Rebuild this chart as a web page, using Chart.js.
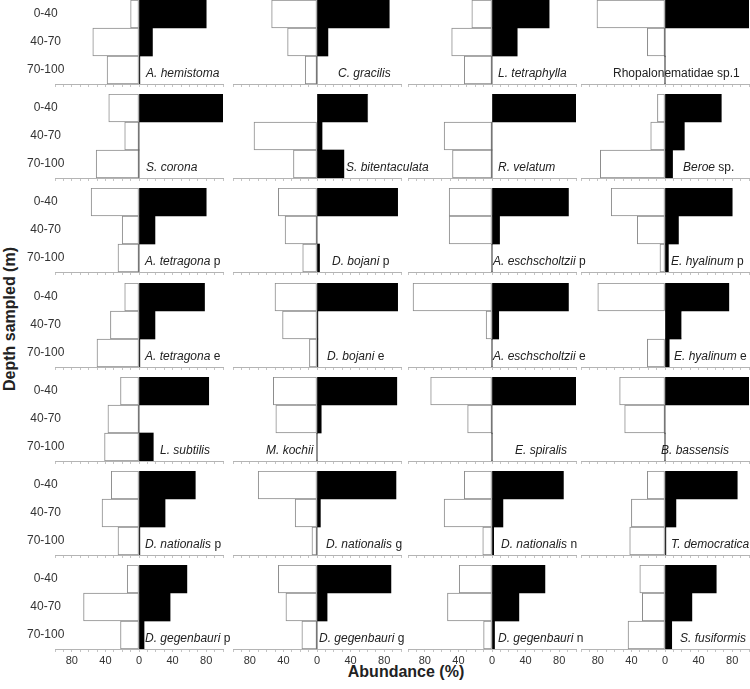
<!DOCTYPE html>
<html>
<head>
<meta charset="utf-8">
<script src="https://cdn.jsdelivr.net/npm/chart.js@4.4.0/dist/chart.umd.min.js"></script>
<style>
  body { margin: 0; background: #fff; }
  #wrap { position: relative; width: 750px; height: 689px; overflow: hidden; font-family: "Liberation Sans", Arial, sans-serif; }
  canvas { position: absolute; }
  .taxon { position: absolute; font-size: 12px; line-height: 14px; color: #222; white-space: nowrap; }
  #xtitle { position: absolute; left: 406px; top: 663px; transform: translateX(-50%); font-weight: bold; font-size: 16px; color: #222; white-space: nowrap; }
  #ytitle { position: absolute; left: 10px; top: 319px; transform: translate(-50%, -50%) rotate(-90deg); font-weight: bold; font-size: 16px; color: #222; white-space: nowrap; }
</style>
</head>
<body>
<div id="wrap">
  <div id="xtitle">Abundance (%)</div>
  <div id="ytitle">Depth sampled (m)</div>
</div>
<script>
const depths = ['0-40', '40-70', '70-100'];
const xTicks = [-80, -40, 0, 40, 80];

// italic part of each panel name, then the upright part
const taxa = [
  'A. hemistoma', 'C. gracilis', 'L. tetraphylla', '',
  'S. corona', 'S. bitentaculata', 'R. velatum', 'Beroe',
  'A. tetragona', 'D. bojani', 'A. eschscholtzii', 'E. hyalinum',
  'A. tetragona', 'D. bojani', 'A. eschscholtzii', 'E. hyalinum',
  'L. subtilis', 'M. kochii', 'E. spiralis', 'B. bassensis',
  'D. nationalis', 'D. nationalis', 'D. nationalis', 'T. democratica',
  'D. gegenbauri', 'D. gegenbauri', 'D. gegenbauri', 'S. fusiformis'
];
const suffixes = [
  '', '', '', 'Rhopalonematidae sp.1',
  '', '', '', ' sp.',
  ' p', ' p', ' p', ' p',
  ' e', ' e', ' e', ' e',
  '', '', '', '',
  ' p', ' g', ' n', '',
  ' p', ' g', ' n', ''
];

// white (open) bars, drawn to the left, % per depth
const openBars = [
  [10, 55, 38], [54, 35, 14], [24, 48, 33], [81, 21, 0],
  [36, 17, 51], [0, 75, 28], [0, 57, 47], [9, 17, 77],
  [57, 20, 25], [46, 38, 17], [51, 51, 0], [64, 33, 6],
  [17, 34, 50], [50, 41, 9], [94, 7, 0], [80, 0, 21],
  [22, 37, 41], [52, 49, 0], [73, 29, 0], [54, 48, 0],
  [33, 44, 25], [70, 26, 6], [33, 57, 11], [21, 40, 42],
  [14, 66, 22], [46, 37, 18], [39, 53, 10], [30, 27, 44]
];
// black (filled) bars, drawn to the right
const filledBars = [
  [80, 16, 1], [86, 13, 0], [68, 30, 0], [100, 0, 0],
  [100, 0, 0], [60, 6, 32], [100, 0, 0], [67, 23, 9],
  [80, 19, 0], [96, 0, 3], [91, 9, 0], [80, 16, 4],
  [78, 19, 1], [96, 1, 1], [91, 8, 0], [76, 19, 5],
  [83, 0, 17], [95, 5, 0], [100, 0, 0], [100, 0, 0],
  [67, 31, 1], [94, 4, 0], [85, 13, 2], [86, 13, 1],
  [57, 37, 6], [88, 12, 0], [63, 32, 3], [61, 32, 8]
];

const colLeft = [55, 233, 408, 581];
const rowTop = [0, 94, 188, 283, 377, 471, 565];
const labelLeft = [
  146, 338, 498, 613,
  146, 346, 498, 683,
  145, 332, 493, 671,
  145, 327, 493, 674,
  160, 266, 515, 661,
  145, 326, 501, 671,
  145, 319, 498, 680
];
const plotW = 168, plotH = 84;
const family = '"Liberation Sans", Arial, sans-serif';
const wrap = document.getElementById('wrap');

taxa.forEach((name, i) => {
  const r = Math.floor(i / 4), c = i % 4;
  const first = c === 0, bottom = r === 6;
  const xH = bottom ? 26 : 6;
  const left = first ? 0 : colLeft[c] - 2;
  const cv = document.createElement('canvas');
  cv.width = colLeft[c] + plotW + 2 - left;
  cv.height = plotH + xH;
  cv.style.left = left + 'px';
  cv.style.top = rowTop[r] + 'px';
  wrap.appendChild(cv);

  new Chart(cv, {
    type: 'bar',
    data: {
      labels: depths,
      datasets: [
        { data: filledBars[i], backgroundColor: '#000', borderWidth: 0,
          barPercentage: 1, categoryPercentage: 1 },
        { data: openBars[i].map(v => -v), backgroundColor: '#fff', borderColor: '#8c8c8c',
          borderWidth: 1, borderSkipped: false, minBarLength: 1,
          barPercentage: 1, categoryPercentage: 1 }
      ]
    },
    options: {
      indexAxis: 'y',
      responsive: false,
      animation: false,
      layout: { padding: { left: first ? 0 : 2, right: 2, top: 0, bottom: 0 } },
      plugins: { legend: { display: false }, tooltip: { enabled: false } },
      scales: {
        x: {
          stacked: true, min: -100, max: 100,
          afterFit: s => { s.height = xH; },
          border: { display: true, color: '#b4b4b4', width: 1 },
          grid: { drawOnChartArea: false, drawTicks: true, tickLength: 3, color: '#c4c4c4' },
          ticks: {
            display: bottom, stepSize: 10, autoSkip: false, maxRotation: 0, padding: 2,
            color: '#333', font: { size: 11, family: family },
            callback: v => xTicks.includes(v) ? String(Math.abs(v)) : ''
          }
        },
        y: {
          stacked: true,
          display: first,
          afterFit: s => { if (first) s.width = 55; },
          border: { display: false },
          grid: { display: false, drawTicks: false },
          ticks: { mirror: true, crossAlign: 'center', padding: -28, color: '#333', font: { size: 12, family: family } }
        }
      }
    }
  });

  const lab = document.createElement('div');
  lab.className = 'taxon';
  lab.style.left = labelLeft[i] + 'px';
  lab.style.top = (rowTop[r] + 66) + 'px';
  lab.innerHTML = (name ? '<i>' + name + '</i>' : '') + suffixes[i];
  wrap.appendChild(lab);
});
</script>
</body>
</html>
